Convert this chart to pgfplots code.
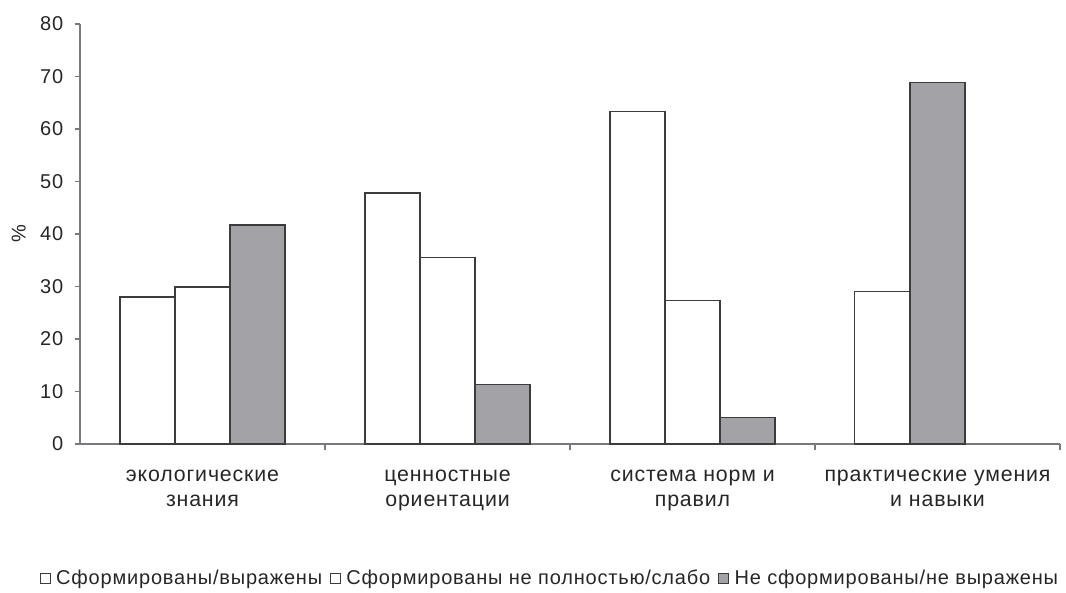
\documentclass[border=0pt]{standalone}
\usepackage{fontspec}
\setmainfont{Liberation Sans}[LetterSpace=4]
\usepackage{pgfplots}
\pgfplotsset{compat=1.18}
\definecolor{bargray}{RGB}{162,162,167}
\definecolor{edge}{RGB}{60,60,60}
\definecolor{axgray}{RGB}{120,120,125}
\pgfplotsset{
  sqlegend/.style={legend image code/.code={\draw[##1,line width=0.6pt] (0pt,-3.8pt) rectangle (7.6pt,3.8pt);}}
}
\begin{document}
\begin{tikzpicture}
\path[use as bounding box] (0pt,0pt) rectangle (799.5pt,444pt);
\begin{axis}[
  at={(60pt,111pt)}, anchor=south west,
  scale only axis, width=735pt, height=315pt,
  xmin=-0.5, xmax=3.5, ymin=0, ymax=80,
  axis x line*=bottom, axis y line*=left,
  axis line style={axgray, line width=0.8pt},
  /pgf/number format/assume math mode=true,
  ytick={0,10,...,80},
  xtick={0,1,2,3},
  xticklabels={{экологические\\знания},{ценностные\\ориентации},{система норм и\\правил},{практические умения\\и навыки}},
  minor xtick={0.5,1.5,2.5,3.5},
  tick align=outside,
  major tick length=4pt, minor tick length=4.5pt,
  xtick style={draw=none},
  minor x tick style={draw=axgray, line width=0.8pt},
  ytick style={draw=axgray, line width=0.8pt},
  yticklabel style={font=\fontsize{15}{17}\selectfont, color=black!85, xshift=-5pt},
  xticklabel style={font=\fontsize{16}{19}\selectfont, align=center, color=black!85, yshift=-12pt},
  ylabel={\%}, ylabel style={font=\fontsize{15}{17}\selectfont, color=black!85},
  ylabel shift=4pt,
  every axis plot/.append style={ybar, bar width=0.2245, bar shift=0pt, draw=edge, line width=0.9pt},
  legend style={at={(0.48,-0.319)}, anchor=center, draw=none, fill=none,
    font=\fontsize{15}{17}\selectfont, text=black!85,
    /tikz/every even column/.append style={column sep=4pt},
    /tikz/every odd column/.append style={column sep=2pt}},
  legend columns=3,
  clip=false,
]
\addplot[fill=white, sqlegend] coordinates {(-0.2245,28) (0.7755,47.8) (1.7755,63.4) (2.7735,29)};
\addlegendentry{Сформированы/выражены}
\addplot[fill=white, sqlegend] coordinates {(0,29.9) (1,35.6) (2,27.4)};
\addlegendentry{Сформированы не полностью/слабо}
\addplot[fill=bargray, sqlegend] coordinates {(0.2245,41.7) (1.2245,11.4) (2.2245,5) (3,68.8)};
\addlegendentry{Не сформированы/не выражены}
\end{axis}
\end{tikzpicture}
\end{document}
